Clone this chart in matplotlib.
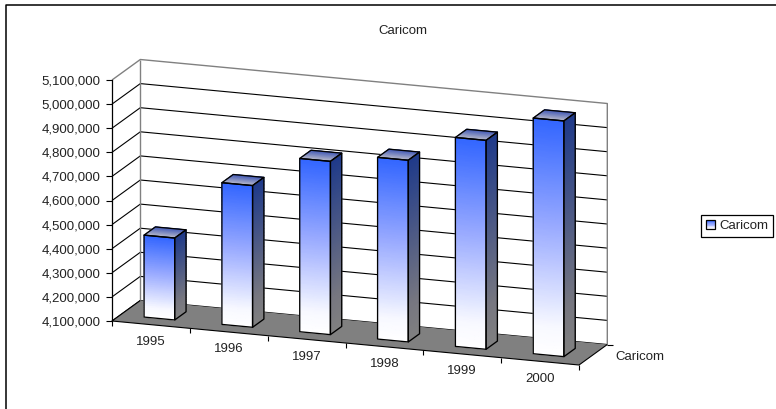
import numpy as np
from matplotlib import pyplot as plt
from matplotlib.colors import LinearSegmentedColormap
from matplotlib.legend_handler import HandlerBase
from matplotlib.lines import Line2D
from matplotlib.patches import Patch, Polygon, Rectangle
from matplotlib.transforms import IdentityTransform

years = ['1995', '1996', '1997', '1998', '1999', '2000']
caricom = [4440000, 4688000, 4819000, 4854000, 4967000, 5078000]
value_ticks = list(range(4100000, 5100001, 100000))
series_name = 'Caricom'

plt.rcParams['font.family'] = ['Liberation Sans', 'DejaVu Sans']
plt.rcParams['font.size'] = 9.5

W, H = 776, 409
fig = plt.figure(figsize=(W / 100, H / 100), dpi=100)

# the front plane of the 3-D box, everything else is sheared off it
ax = fig.add_axes([112 / W, (H - 321) / H, 467 / W, 241 / H])
ax.patch.set_visible(False)
ax.set_xlim(0, len(years))
ax.set_ylim(value_ticks[0], value_ticks[-1])
ax.set_xticks([])
ax.set_yticks(value_ticks)
ax.set_yticklabels(['{:,}'.format(v) for v in value_ticks], color='#222222')
ax.tick_params(axis='y', length=4.3, width=0.8, pad=4.2)
for side in ['top', 'right', 'bottom']:
    ax.spines[side].set_visible(False)
ax.spines['left'].set_linewidth(0.9)
ax.spines['left'].set_zorder(3.5)

SLOPE = 44 / 467
DEPTH_X, DEPTH_Y = 28.3, 20.5
IDENT = IdentityTransform()
origin_x = ax.transData.transform((0, value_ticks[0]))[0]


def pt(c, v, d=0.0):
    x, y = ax.transData.transform((c, v))
    return x + d * DEPTH_X, y - SLOPE * (x - origin_x) + d * DEPTH_Y


def face(corners, fc='none', ec='none', lw=0.0, z=1):
    ax.add_patch(Polygon(corners, closed=True, facecolor=fc, edgecolor=ec, linewidth=lw,
                         joinstyle='round', transform=IDENT, clip_on=False, zorder=z))


def line(points, color='black', lw=0.8, z=2):
    xs, ys = zip(*points)
    ax.plot(xs, ys, color=color, linewidth=lw, transform=IDENT, clip_on=False, zorder=z,
            scalex=False, scaley=False, solid_capstyle='butt')


def gradient(bl, br, tr, tl, cmap, z):
    # bottom edge to top edge, split into rows so the colormap stops hold
    bl, br, tr, tl = [np.array(p) for p in (bl, br, tr, tl)]
    t = np.linspace(0, 1, 40)[:, None]
    left = bl + (tl - bl) * t
    right = br + (tr - br) * t
    X = np.column_stack([left[:, 0], right[:, 0]])
    Y = np.column_stack([left[:, 1], right[:, 1]])
    C = np.column_stack([t[:, 0], t[:, 0]])
    ax.pcolormesh(X, Y, C, cmap=cmap, vmin=0, vmax=1, shading='gouraud', transform=IDENT,
                  clip_on=False, zorder=z)


front_cmap = LinearSegmentedColormap.from_list(
    'front', [(0, '#ffffff'), (0.12, '#f8f9ff'), (0.55, '#99aaff'), (1, '#3366ff')])
side_cmap = LinearSegmentedColormap.from_list(
    'side', [(0, '#808080'), (0.2, '#777780'), (1, '#1f3a8a')])
top_cmap = LinearSegmentedColormap.from_list('top', [(0, '#c4c4cc'), (1, '#4c62b8')])

base, ceil = value_ticks[0], value_ticks[-1]
n = len(years)

# walls
face([pt(0, base, 0), pt(0, base, 1), pt(n, base, 1), pt(n, ceil, 1), pt(0, ceil, 1), pt(0, ceil, 0)],
     fc='white', z=1)
for v in value_ticks[:-1]:
    line([pt(0, v, 0), pt(0, v, 1), pt(n, v, 1)], z=2)
line([pt(0, ceil, 0), pt(0, ceil, 1), pt(n, ceil, 1), pt(n, base, 1)], color='#808080', lw=1.0, z=2)
line([pt(0, base, 1), pt(0, ceil, 1)], color='#808080', lw=1.0, z=2)

# floor
face([pt(0, base, 0), pt(n, base, 0), pt(n, base, 1), pt(0, base, 1)], fc='#808080', z=3)
line([pt(0, base, 1), pt(0, base, 0), pt(n, base, 0), pt(n, base, 1)], lw=0.8, z=3.5)

# category ticks and labels
for i in range(n + 1):
    x, y = pt(i, base, 0)
    line([(x, y), (x, y - 5)], lw=0.8, z=3.5)
for i, year in enumerate(years):
    x, y = pt(i + 0.5, base, 0)
    ax.text(x, y - 17.5, year, ha='center', va='center', color='#222222', transform=IDENT, clip_on=False)

# depth axis tick and label
x, y = pt(n, base, 1)
line([(x, y), (x + 6, y)], lw=0.8, z=3.5)
ax.text(x + 8, y - 12, series_name, ha='left', va='center', color='#222222', transform=IDENT, clip_on=False)

# bars
bar_w, d0, d1 = 0.394, 0.3, 0.7
for i, val in enumerate(caricom):
    z = 4 + i * 0.1
    c0 = i + 0.5 - bar_w / 2
    c1 = i + 0.5 + bar_w / 2
    gradient(pt(c1, base, d0), pt(c1, base, d1), pt(c1, val, d1), pt(c1, val, d0), side_cmap, z)
    gradient(pt(c0, val, d0), pt(c1, val, d0), pt(c1, val, d1), pt(c0, val, d1), top_cmap, z)
    gradient(pt(c0, base, d0), pt(c1, base, d0), pt(c1, val, d0), pt(c0, val, d0), front_cmap, z)
    edge = dict(ec='black', lw=0.95, z=z + 0.05)
    face([pt(c0, base, d0), pt(c1, base, d0), pt(c1, val, d0), pt(c0, val, d0)], **edge)
    face([pt(c1, base, d0), pt(c1, base, d1), pt(c1, val, d1), pt(c1, val, d0)], **edge)
    face([pt(c0, val, d0), pt(c1, val, d0), pt(c1, val, d1), pt(c0, val, d1)], **edge)

fig.text(403 / W, 1 - 30.5 / H, series_name, ha='center', va='center', color='#222222')


class GradientHandler(HandlerBase):
    def create_artists(self, legend, orig_handle, xdescent, ydescent, width, height, fontsize, trans):
        rows = 12
        out = []
        for k in range(rows):
            out.append(Rectangle((-xdescent, -ydescent + height * k / rows), width, height / rows,
                                 facecolor=front_cmap(k / (rows - 1)), edgecolor='none', transform=trans))
        out.append(Rectangle((-xdescent, -ydescent), width, height, facecolor='none',
                             edgecolor='black', linewidth=0.9, transform=trans))
        return out


handle = Patch(label=series_name)
fig.legend(handles=[handle], handler_map={Patch: GradientHandler()}, loc='center left',
           bbox_to_anchor=(701 / W, 1 - 226.3 / H), bbox_transform=fig.transFigure,
           fancybox=False, framealpha=1, edgecolor='black', frameon=True, borderaxespad=0,
           handlelength=0.7, handleheight=0.7, handletextpad=0.28, borderpad=0.38,
           labelcolor='#222222').get_frame().set_linewidth(0.9)

# chart area border, runs off the right and bottom of the picture
fig.add_artist(Line2D([6 / W, 6 / W, 1], [0, 1 - 4.5 / H, 1 - 4.5 / H], color='black', linewidth=1.1))

fig.savefig('out.png', dpi=100, facecolor='white')
